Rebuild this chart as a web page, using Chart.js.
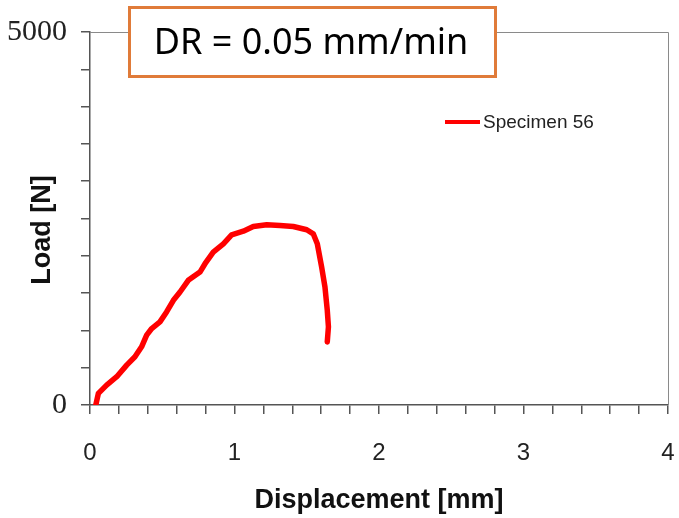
<!DOCTYPE html>
<html>
<head>
<meta charset="utf-8">
<script src="https://cdn.jsdelivr.net/npm/chart.js@4/dist/chart.umd.min.js"></script>
<style>
  html, body { margin: 0; padding: 0; background: #fff; }
  #wrap { width: 679px; height: 518px; position: relative; }
</style>
</head>
<body>
<div id="wrap"><canvas id="loadChart" width="679" height="518"></canvas></div>
<script>
// Load vs displacement
const seriesName = 'Specimen 56';
const displacement = [0.04, 0.058, 0.115, 0.185, 0.254, 0.311, 0.357, 0.392, 0.427, 0.484, 0.53, 0.577,
  0.623, 0.68, 0.761, 0.796, 0.853, 0.923, 0.98, 1.061, 1.13, 1.223, 1.315, 1.407, 1.5, 1.545,
  1.573, 1.603, 1.626, 1.642, 1.65, 1.642];
const load = [0, 156, 267, 379, 535, 646, 780, 936, 1025, 1114, 1248, 1404,
  1515, 1671, 1782, 1894, 2049, 2161, 2281, 2330, 2393, 2416, 2406, 2393, 2349, 2295,
  2161, 1849, 1582, 1270, 1047, 846];
const yTickLabels = [0, 5000];
const xTickLabels = [0, 1, 2, 3, 4];
const titleText = 'DR = 0.05 mm/min';
const yTitle = 'Load [N]';

const points = displacement.map((x, i) => ({ x: x, y: load[i] }));

// frame, title box, y title and legend drawn on top
const extras = {
  id: 'extras',
  afterDraw(chart) {
    const ctx = chart.ctx;
    const a = chart.chartArea;
    ctx.save();
    // top and right frame
    ctx.strokeStyle = '#8a8a8a';
    ctx.lineWidth = 1;
    ctx.beginPath();
    ctx.moveTo(a.left, a.top + 0.5);
    ctx.lineTo(a.right + 0.5, a.top + 0.5);
    ctx.lineTo(a.right + 0.5, a.bottom);
    ctx.stroke();

    // title box
    ctx.fillStyle = '#fff';
    ctx.fillRect(128, 6, 369, 72);
    ctx.strokeStyle = '#E07B39';
    ctx.lineWidth = 3;
    ctx.strokeRect(129.5, 7.5, 366, 69);
    ctx.fillStyle = '#000';
    ctx.font = '36px "Noto Sans", sans-serif';
    ctx.textAlign = 'center';
    ctx.textBaseline = 'middle';
    ctx.fillText(titleText, 311, 44);

    // y axis title, a bit below the middle like the original
    ctx.save();
    ctx.translate(43, 230);
    ctx.rotate(-Math.PI / 2);
    ctx.fillStyle = '#111';
    ctx.font = 'bold 27px "Liberation Sans", Arial, sans-serif';
    ctx.fillText(yTitle, 0, 0);
    ctx.restore();

    // legend
    const ds = chart.data.datasets[0];
    ctx.strokeStyle = ds.borderColor;
    ctx.lineWidth = 4;
    ctx.beginPath();
    ctx.moveTo(445, 122);
    ctx.lineTo(480, 122);
    ctx.stroke();
    ctx.fillStyle = '#222';
    ctx.font = '19px "Liberation Sans", Arial, sans-serif';
    ctx.textAlign = 'left';
    ctx.fillText(ds.label, 483, 123);
    ctx.restore();
  }
};

new Chart(document.getElementById('loadChart').getContext('2d'), {
  type: 'scatter',
  data: {
    datasets: [
      {
        label: seriesName,
        data: points,
        showLine: true,
        borderColor: '#ff0000',
        backgroundColor: '#ff0000',
        borderWidth: 5.5,
        borderCapStyle: 'round',
        borderJoinStyle: 'round',
        pointRadius: 0,
        tension: 0,
      },
    ],
  },
  options: {
    responsive: false,
    animation: false,
    layout: { padding: { top: 31, right: 11, left: 0, bottom: 0 } },
    plugins: {
      legend: { display: false },
      tooltip: { enabled: false },
    },
    scales: {
      x: {
        type: 'linear',
        min: 0,
        max: 4,
        afterFit: (s) => {
          s.height = 113;
          s.paddingLeft = 0;
          s.paddingRight = 0;
        },
        border: { color: '#555', width: 1.5 },
        grid: { drawOnChartArea: false, tickLength: 9, color: '#555', lineWidth: 1.5 },
        ticks: {
          stepSize: 0.2,
          autoSkip: false,
          maxRotation: 0,
          padding: 25,
          color: '#222',
          font: { family: '"Liberation Sans", Arial, sans-serif', size: 24 },
          callback: (v) => {
            const r = Math.round(v);
            return Math.abs(v - r) < 1e-6 && xTickLabels.includes(r) ? String(r) : '';
          },
        },
        title: {
          display: true,
          text: 'Displacement [mm]',
          color: '#111',
          font: { family: '"Liberation Sans", Arial, sans-serif', size: 27, weight: 'bold' },
          padding: { top: 0, bottom: 1 },
        },
      },
      y: {
        min: 0,
        max: 5000,
        afterFit: (s) => { s.width = 90; },
        border: { color: '#555', width: 1.5 },
        grid: { drawOnChartArea: false, tickLength: 9, color: '#555', lineWidth: 1.5 },
        ticks: {
          stepSize: 500,
          autoSkip: false,
          padding: 14,
          color: '#222',
          font: { family: '"Liberation Serif", "Times New Roman", serif', size: 30 },
          callback: (v) => (yTickLabels.includes(v) ? String(v) : ''),
        },
      },
    },
  },
  plugins: [extras],
});
</script>
</body>
</html>
